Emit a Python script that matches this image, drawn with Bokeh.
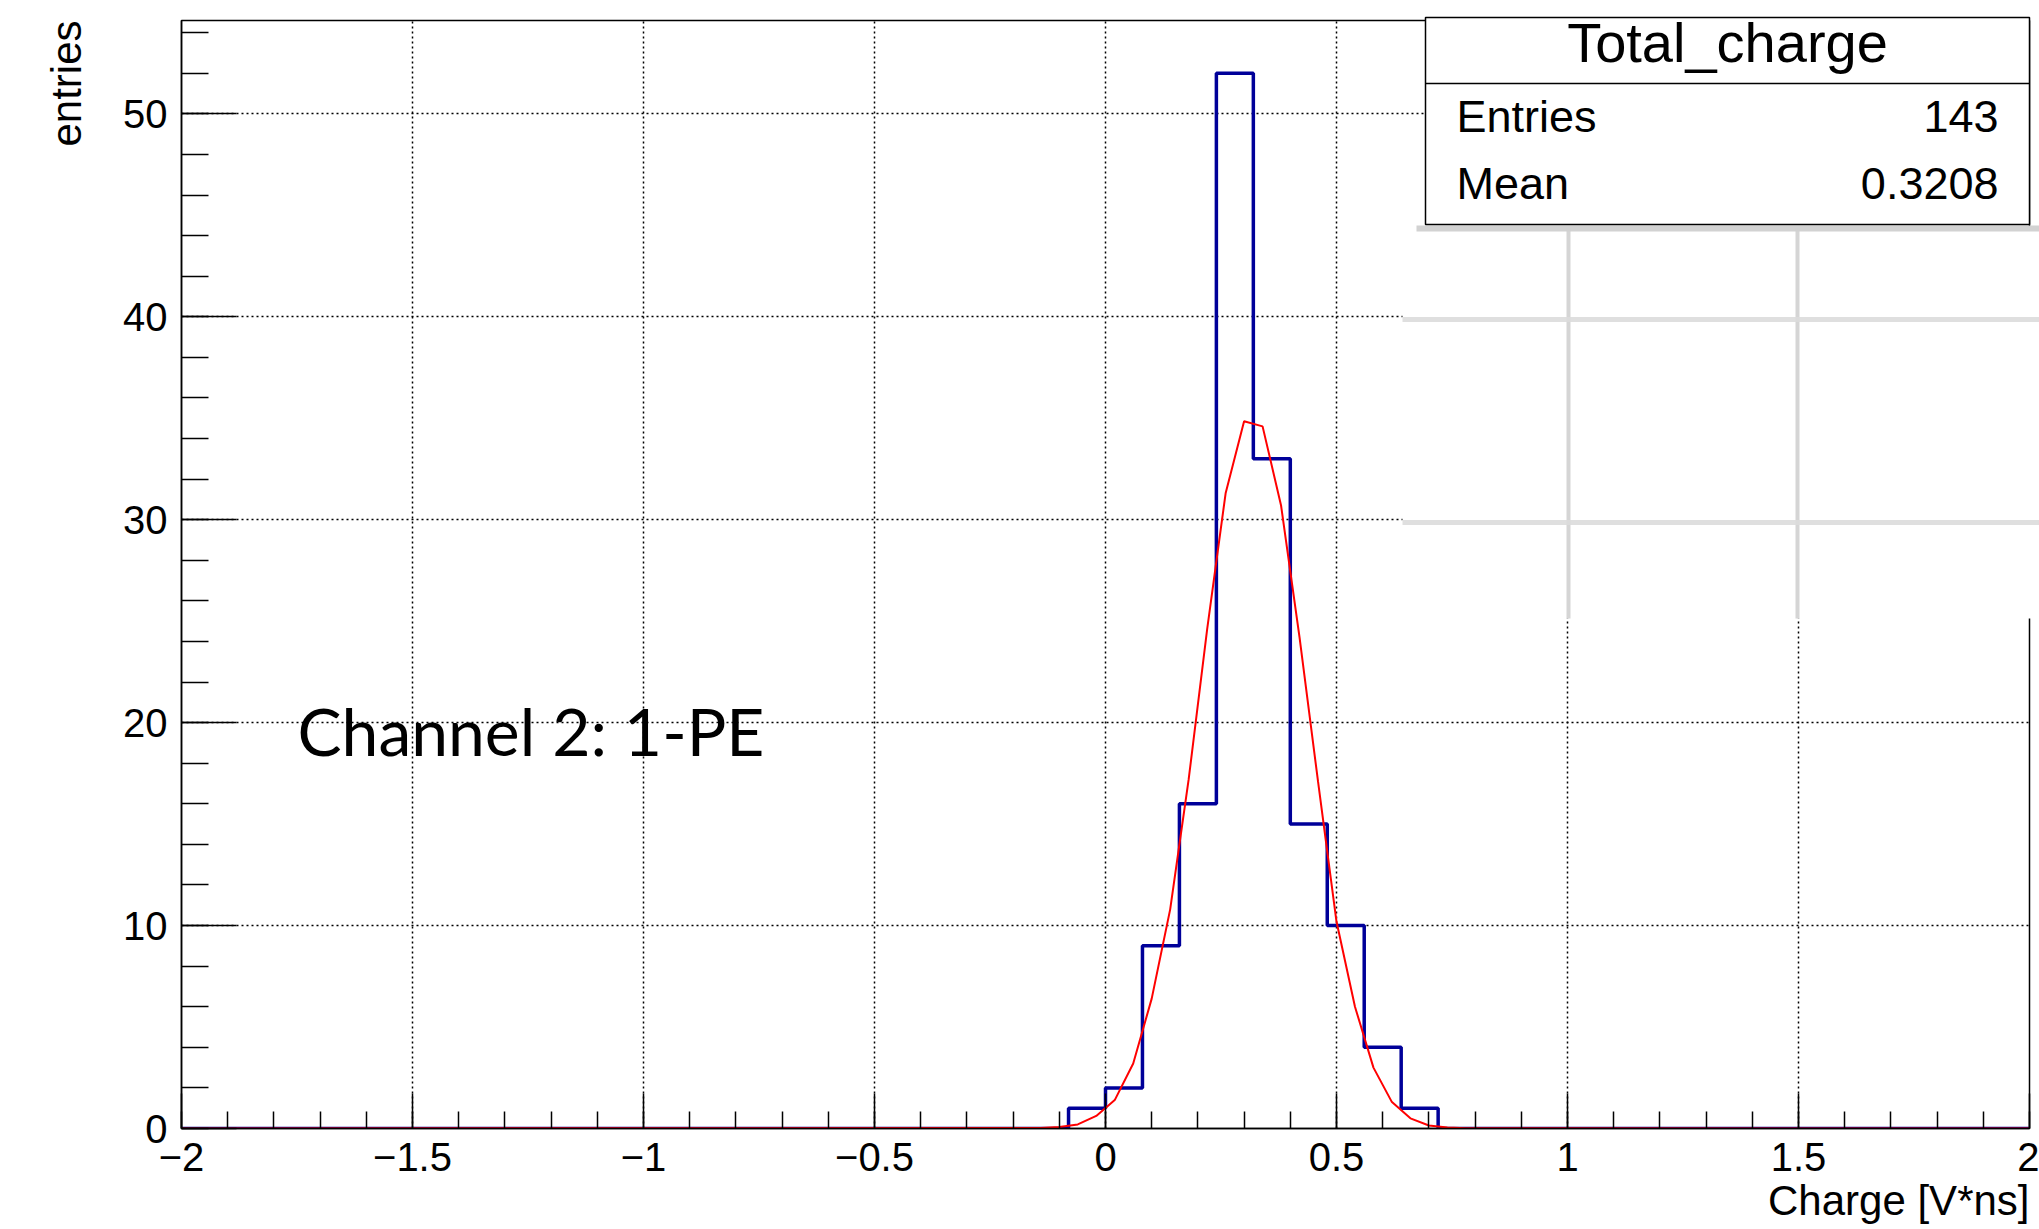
import math
from bokeh.plotting import figure
from bokeh.models import Range1d, SingleIntervalTicker, Label, Title
from bokeh.embed import file_html
from bokeh.resources import INLINE

# ---------------- data ----------------
hist_lo = -2.0
hist_hi = 2.0
counts = [0, 0, 0, 0, 0, 0, 0, 0, 0, 0,
          0, 0, 0, 0, 0, 0, 0, 0, 0, 0,
          0, 0, 0, 0, 1, 2, 9, 16, 52, 33,
          15, 10, 4, 1, 0, 0, 0, 0, 0, 0,
          0, 0, 0, 0, 0, 0, 0, 0, 0, 0]

fit_x = [-2.0, -0.14, -0.10, -0.06, -0.02, 0.02, 0.06, 0.10, 0.14, 0.18, 0.22,
         0.26, 0.30, 0.34, 0.38, 0.42, 0.46, 0.50, 0.54, 0.58, 0.62, 0.66,
         0.70, 0.74, 0.78, 2.0]
fit_y = [0.0, 0.02, 0.07, 0.2, 0.62, 1.4, 3.2, 6.4, 10.8, 17.2, 24.6,
         31.3, 34.85, 34.6, 30.7, 24.2, 17.1, 10.2, 6.0, 3.0, 1.3, 0.5,
         0.15, 0.05, 0.01, 0.0]

x_tick_vals = [-2, -1.5, -1, -0.5, 0, 0.5, 1, 1.5, 2]
x_tick_labels = ["\u22122", "\u22121.5", "\u22121", "\u22120.5", "0", "0.5", "1", "1.5", "2"]
y_tick_vals = [0, 10, 20, 30, 40, 50]
y_tick_labels = ["0", "10", "20", "30", "40", "50"]

stats_title = "Total_charge"
stats_names = ["Entries", "Mean"]
stats_values = ["143", "0.3208"]

x_title = "Charge [V*ns]"
y_title = "entries"
note_text = "Channel 2: 1-PE"

# ---------------- layout ----------------
W, H = 2039, 1229
FL, FR, FT, FB = 181, 2029, 20, 1128   # frame edges in pixels
Y_MAX = 54.6
BASE_SHIFT = 0.375  # label baseline correction, fraction of font size

def px_x(px):
    return hist_lo + (px - FL) / (FR - FL) * (hist_hi - hist_lo)

def px_y(py):
    return (FB - py) / (FB - FT) * Y_MAX

p = figure(width=W, height=H, output_backend="svg", toolbar_location=None,
           x_range=Range1d(hist_lo, hist_hi), y_range=Range1d(0, Y_MAX),
           min_border_left=FL, min_border_right=W - FR,
           min_border_top=FT, min_border_bottom=H - FB)
p.background_fill_color = "white"
p.border_fill_color = "white"
p.outline_line_color = "black"
p.outline_line_width = 1.5

for ax, vals, labs in ((p.xaxis, x_tick_vals, x_tick_labels), (p.yaxis, y_tick_vals, y_tick_labels)):
    ax.major_label_overrides = {(int(v) if float(v).is_integer() else v): l for v, l in zip(vals, labs)}
    ax.major_label_text_font = "Liberation Sans"
    ax.major_label_text_font_size = "40px"
    ax.major_label_text_color = "black"
    ax.major_label_standoff = 14
    ax.axis_line_color = "black"
    ax.axis_line_width = 1.5
    ax.major_tick_line_color = "black"
    ax.minor_tick_line_color = "black"
    ax.major_tick_line_width = 1.5
    ax.minor_tick_line_width = 1.5
    ax.major_tick_out = 0
    ax.minor_tick_out = 0

p.xaxis.ticker = SingleIntervalTicker(interval=0.5, num_minor_ticks=5)
p.yaxis.ticker = SingleIntervalTicker(interval=10, num_minor_ticks=5)
p.xaxis.major_tick_in = 35
p.xaxis.minor_tick_in = 17
p.yaxis.major_tick_in = 55
p.yaxis.minor_tick_in = 27

# axis titles (right-aligned, ROOT style)
tx = Title(text=x_title, align="right", text_font="Liberation Sans", text_font_size="42px",
           text_font_style="normal", text_color="black", standoff=3)
p.add_layout(tx, "below")
ty = Title(text=y_title, align="right", text_font="Liberation Sans", text_font_size="42px",
           text_font_style="normal", text_color="black", standoff=62)
p.add_layout(ty, "left")

for g in (p.xgrid, p.ygrid):
    g.grid_line_color = "black"
    g.grid_line_dash = "2 3"
    g.grid_line_width = 1.5

# histogram outline
nb = len(counts)
bw = (hist_hi - hist_lo) / nb
hx, hy = [hist_lo], [0]
for i, c in enumerate(counts):
    hx += [hist_lo + i * bw, hist_lo + (i + 1) * bw]
    hy += [c, c]
hx.append(hist_hi)
hy.append(0)
p.line(hx, hy, line_color="#000099", line_width=3.5)

# fit curve
p.line(fit_x, fit_y, line_color="#ff0000", line_width=2)

# pasted blurry overlay region (as in reference)
p.quad(left=[px_x(1402)], right=[px_x(2039)], top=[px_y(228)], bottom=[px_y(618)],
       fill_color="white", line_color=None, level="annotation")
p.segment(x0=[px_x(1416)], y0=[px_y(228)], x1=[px_x(2039)], y1=[px_y(228)],
          line_color="#d2d2d2", line_width=6, level="annotation")
p.segment(x0=[px_x(1568), px_x(1797)], y0=[px_y(228)] * 2,
          x1=[px_x(1568), px_x(1797)], y1=[px_y(618)] * 2,
          line_color="#d0d0d0", line_width=4, line_alpha=0.9, level="annotation")
p.segment(x0=[px_x(1402)] * 2, y0=[px_y(319), px_y(522)],
          x1=[px_x(2039)] * 2, y1=[px_y(319), px_y(522)],
          line_color="#dcdcdc", line_width=5, line_alpha=0.9, level="annotation")

# stats box
p.quad(left=[px_x(1425)], right=[px_x(2029)], top=[px_y(17)], bottom=[px_y(224)],
       fill_color="white", line_color="black", line_width=1.5, level="overlay")
p.segment(x0=[px_x(1425)], y0=[px_y(83)], x1=[px_x(2029)], y1=[px_y(83)],
          line_color="black", line_width=1.5, level="overlay")

def add_label(xpx, basepx, text, size_px, align="left", font="Liberation Sans"):
    lab = Label(x=px_x(xpx), y=px_y(basepx - BASE_SHIFT * size_px), text=text,
                text_font=font, text_font_size=f"{size_px}px",
                text_align=align, text_baseline="alphabetic", text_color="black",
                level="overlay")
    p.add_layout(lab)

add_label(1727, 63, stats_title, 56, align="center")
for name, val, base in zip(stats_names, stats_values, (133, 200)):
    add_label(1456, base, name, 45, align="left")
    add_label(1998, base, val, 45, align="right")

# annotation text
add_label(297, 755, note_text, 66, align="left", font="Lato")

open("out.html", "w").write(file_html(p, INLINE))
